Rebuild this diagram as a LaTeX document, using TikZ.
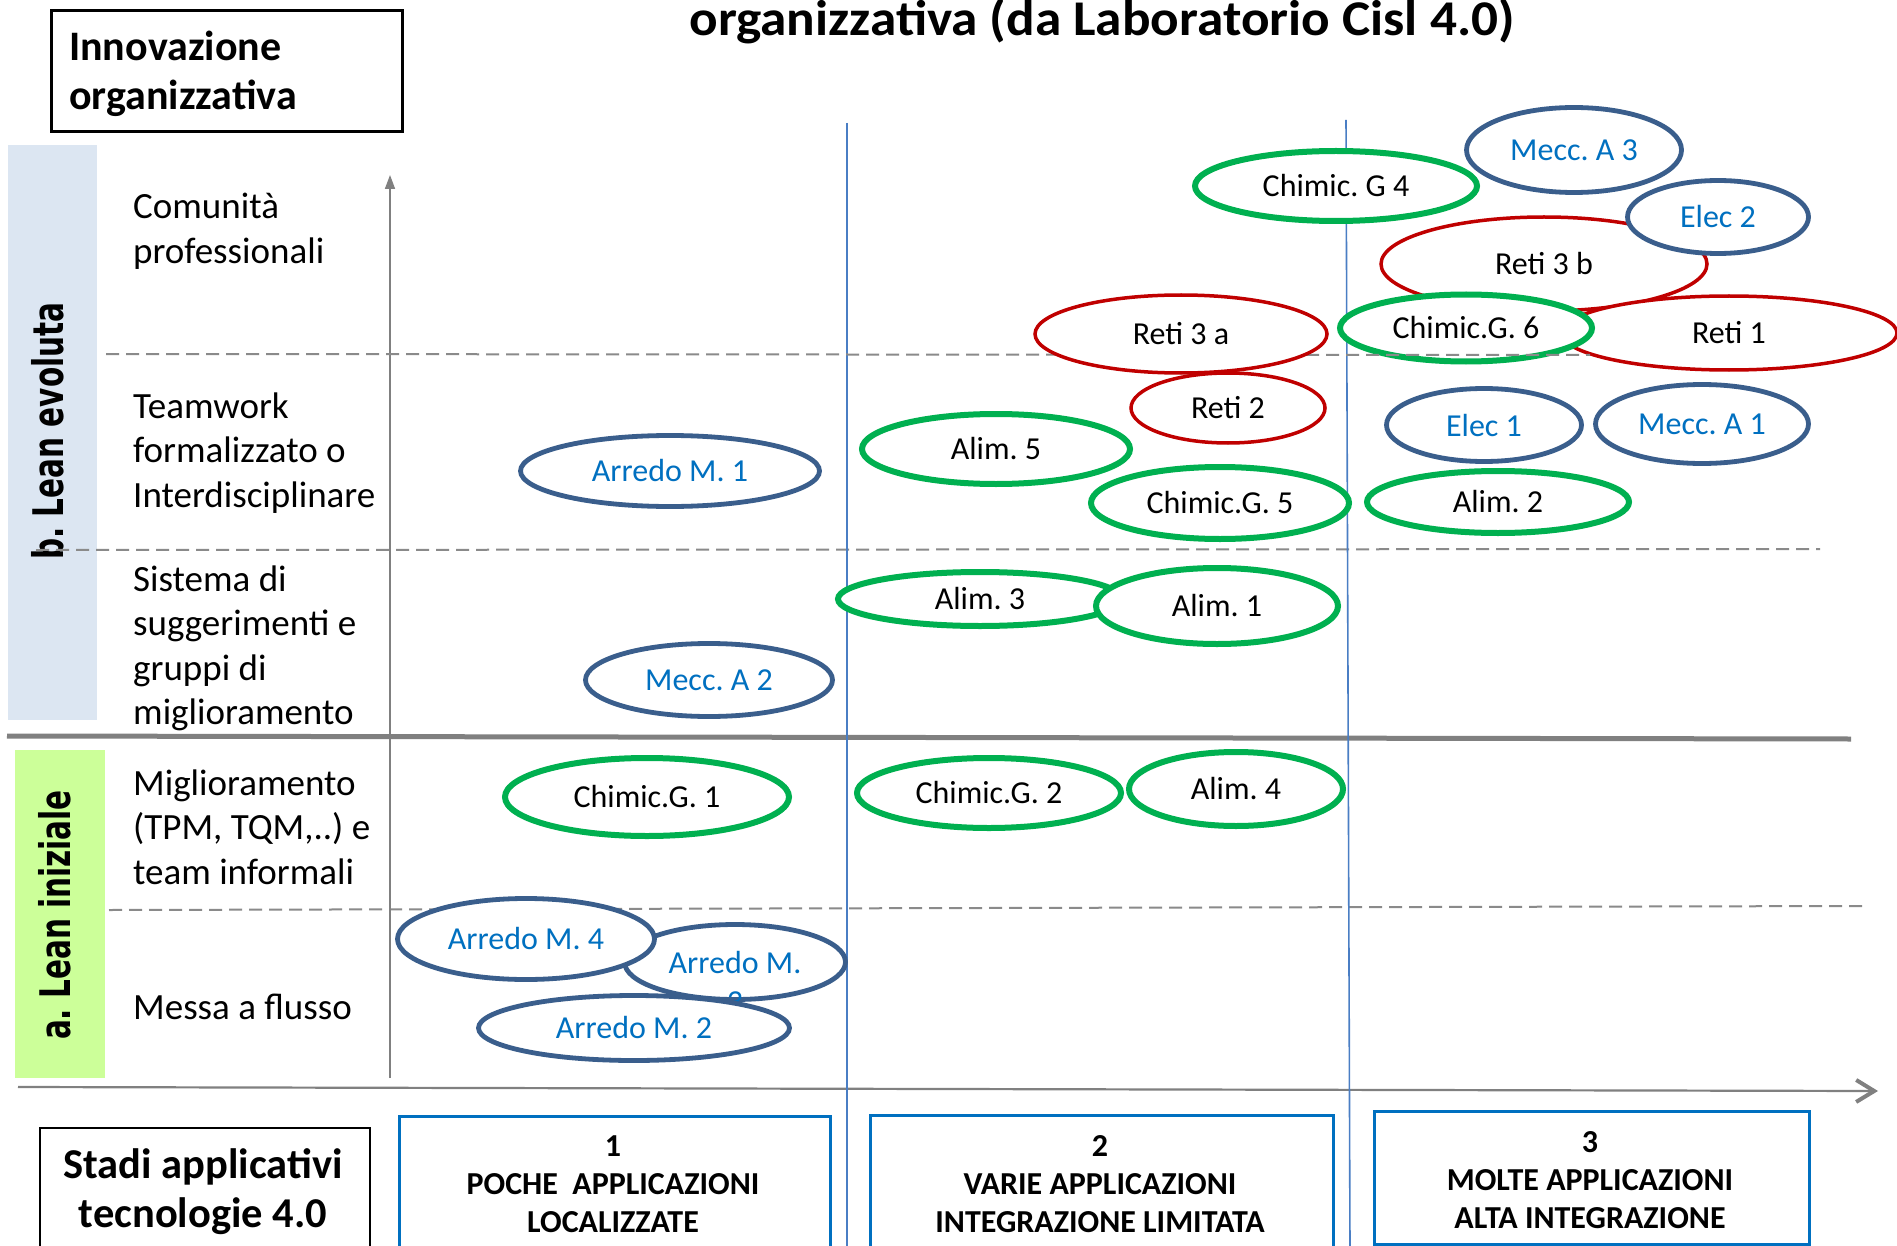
\documentclass[tikz,border=0pt]{standalone}
\usepackage{fontspec}
\setmainfont{Carlito}
\newfontfamily\vfont{DejaVu Sans}
\usepackage{graphicx}
\usetikzlibrary{shapes.geometric,arrows.meta}
\definecolor{bandblue}{HTML}{DCE6F2}
\definecolor{bandgreen}{HTML}{CCFF99}
\definecolor{eblue}{HTML}{3A5E8C}
\definecolor{egreen}{HTML}{00B050}
\definecolor{ered}{HTML}{C00000}
\definecolor{tblue}{HTML}{0070C0}
\definecolor{boxblue}{HTML}{0070C0}
\definecolor{lineblue}{HTML}{4A7EC4}
\definecolor{axgray}{HTML}{808080}
\definecolor{dashgray}{HTML}{8A8A8A}
\tikzset{
  ell/.style={ellipse, inner sep=0pt, fill=white, font=\fontsize{32}{39}\selectfont},
  eb/.style={ell, draw=eblue, line width=4.8pt, text=tblue},
  eg/.style={ell, draw=egreen, line width=6pt, text=black},
  er/.style={ell, draw=ered, line width=3.5pt, text=black},
  rowlab/.style={anchor=base west, align=left, inner sep=0pt, font=\fontsize{37}{44.5}\selectfont},
  vlab/.style={rotate=90, inner sep=0pt, font=\vfont\fontsize{29.5}{30}\selectfont\bfseries},
  stagebox/.style={draw=boxblue, line width=2.5pt, anchor=north west, inner sep=0pt},
  stagetxt/.style={anchor=base, align=center, inner sep=0pt, font=\fontsize{32}{38}\selectfont\bfseries},
  dashline/.style={draw=dashgray, line width=2pt, dash pattern=on 13pt off 7pt},
  vline/.style={draw=lineblue, line width=1.6pt},
}
\begin{document}
\frenchspacing
\begin{tikzpicture}[x=1pt,y=-1pt]
\useasboundingbox (0,0) rectangle (1897,1246);
\clip (0,0) rectangle (1897,1246);
\fill[white] (0,0) rectangle (1897,1246);

% title
\node[anchor=base, inner sep=0pt, font=\fontsize{50}{60}\selectfont\bfseries] (title) at (1102,36) {\scalebox{1.065}[1]{organizzativa (da Laboratorio Cisl 4.0)}};

% top-left box
\node[draw=black, line width=3pt, anchor=north west, inner sep=0pt, minimum width=351pt, minimum height=121pt] (innov) at (50,9.5) {};
\node[anchor=base west, align=left, inner sep=0pt, font=\fontsize{42}{49}\selectfont\bfseries] (innovtxt) at (69,110) {Innovazione\\organizzativa};

% bands
\fill[bandblue] (8,145) rectangle (97,720);
\fill[bandgreen] (15,750) rectangle (105,1078);
\node[vlab] (lblb) at (48,431) {\scalebox{1}[1.43]{b. Lean evoluta}};
\node[vlab] (lbla) at (55,915) {\scalebox{1}[1.43]{a. Lean iniziale}};

% row labels (anchor = baseline of last line)
\node[rowlab] (r1) at (133,263.5) {Comunità\\professionali};
\node[rowlab] (r2) at (133,507) {Teamwork\\formalizzato o\\Interdisciplinare};
\node[rowlab] (r3) at (133,724.5) {Sistema di\\suggerimenti e\\gruppi di\\miglioramento};
\node[rowlab] (r4) at (133,884) {Miglioramento\\(TPM, TQM,..) e\\team informali};
\node[rowlab] (r5) at (133,1019) {Messa a flusso};

% grid coordinates
\coordinate (d2a) at (36,550);   \coordinate (d2b) at (1820,549);
\coordinate (d3a) at (109,910);  \coordinate (d3b) at (1862,906);
\coordinate (d1a) at (106,354);  \coordinate (d1b) at (1590,355);
\coordinate (tha) at (7,736);    \coordinate (thb) at (1851,739);
\coordinate (ya0) at (390,1078); \coordinate (ya1) at (390,175);
\coordinate (xa0) at (18,1087);  \coordinate (xa1) at (1878,1091);
\coordinate (v1a) at (847,123);  \coordinate (v1b) at (847,1250);
\coordinate (v2a) at (1346,120); \coordinate (v2b) at (1350,1250);

\draw[dashline] (d2a) -- (d2b);
\draw[dashline] (d3a) -- (d3b);
\draw[axgray, line width=5pt] (tha) -- (thb);
\draw[axgray, line width=1.6pt, -{Triangle[length=14pt,width=10pt]}] (ya0) -- (ya1);
\draw[axgray, line width=2.2pt, -{Straight Barb[length=18pt,width=22pt,line width=4pt]}] (xa0) -- (xa1);
\draw[vline] (v1a) -- (v1b);
\draw[vline] (v2a) -- (v2b);

% ellipses
\node[eb, minimum width=215pt, minimum height=85pt] (meccA3) at (1574,150) {Mecc. A 3};
\node[er, minimum width=326pt, minimum height=94pt] (reti3b) at (1544,264) {Reti 3 b};
\node[eb, minimum width=181pt, minimum height=73pt] (elec2) at (1718,217) {Elec 2};
\node[er, minimum width=336pt, minimum height=74pt] (reti1) at (1729,333) {Reti 1};
\node[eg, minimum width=252pt, minimum height=67pt] (chimG6) at (1466,328) {Chimic.G. 6};
\draw[dashline] (d1a) -- (d1b);
\node[eg, minimum width=282pt, minimum height=70pt] (chimG4) at (1336,186) {Chimic. G 4};
\node[er, minimum width=194pt, minimum height=70pt] (reti2) at (1228,408) {Reti 2};
\node[er, minimum width=292pt, minimum height=78pt] (reti3a) at (1181,334) {Reti 3 a};
\node[eg, minimum width=268pt, minimum height=70pt] (alim5) at (996,449) {Alim. 5};
\node[eg, minimum width=258pt, minimum height=72pt] (chimG5) at (1220,503) {Chimic.G. 5};
\node[eb, minimum width=195pt, minimum height=73pt] (elec1) at (1484,425) {Elec 1};
\node[eb, minimum width=213pt, minimum height=79pt] (meccA1) at (1702,424) {Mecc. A 1};
\node[eg, minimum width=262pt, minimum height=62pt] (alim2) at (1498,502) {Alim. 2};
\node[eb, minimum width=299pt, minimum height=71pt] (arr1) at (670,471) {Arredo M. 1};
\node[eb, minimum width=247pt, minimum height=73pt] (meccA2) at (709,680) {Mecc. A 2};
\node[eg, minimum width=284pt, minimum height=54pt] (alim3) at (980,599) {Alim. 3};
\node[eg, minimum width=242pt, minimum height=76pt] (alim1) at (1217,606) {Alim. 1};
\node[eg, minimum width=284pt, minimum height=78pt] (chimG1) at (647,797) {Chimic.G. 1};
\node[eg, minimum width=264pt, minimum height=70pt] (chimG2) at (989,793) {Chimic.G. 2};
\node[eg, minimum width=214pt, minimum height=74pt] (alim4) at (1236,789) {Alim. 4};
\node[eb, minimum width=221pt, minimum height=75pt] (arr3) at (735,962) {};
\node[anchor=base, align=center, inner sep=0pt, text=tblue, font=\fontsize{32}{39}\selectfont] (arr3t) at (735,1012) {Arredo M.\\3};
\node[eb, minimum width=257pt, minimum height=81pt] (arr4) at (526,939) {Arredo M. 4};
\node[eb, minimum width=311pt, minimum height=65pt] (arr2) at (634,1028) {Arredo M. 2};

% bottom boxes
\node[draw=black, line width=1.5pt, anchor=north west, inner sep=0pt, minimum width=330pt, minimum height=140pt] (stadi) at (39,1127) {};
\node[anchor=base, align=center, inner sep=0pt, font=\fontsize{42.5}{49}\selectfont\bfseries] (staditxt) at (203,1227) {Stadi applicativi\\tecnologie 4.0};
\node[stagebox, minimum width=431pt, minimum height=150pt] (st1) at (398,1115) {};
\node[stagetxt] (st1t) at (613,1232) {1\\POCHE\ \ APPLICAZIONI\\LOCALIZZATE};
\node[stagebox, minimum width=463pt, minimum height=150pt] (st2) at (869,1114) {};
\node[stagetxt] (st2t) at (1100,1232) {2\\VARIE APPLICAZIONI\\INTEGRAZIONE LIMITATA};
\node[stagebox, minimum width=435pt, minimum height=133pt] (st3) at (1373,1110) {};
\node[stagetxt] (st3t) at (1590,1228) {3\\MOLTE APPLICAZIONI\\ALTA INTEGRAZIONE};
\end{tikzpicture}
\end{document}
